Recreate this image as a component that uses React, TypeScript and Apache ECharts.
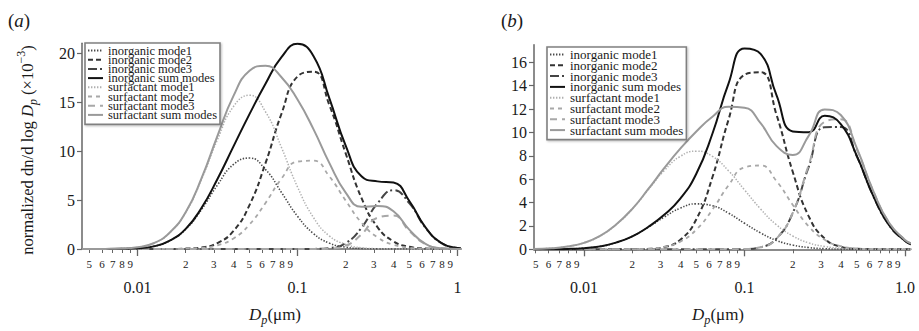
import React, { useEffect, useRef } from 'react';
import * as echarts from 'echarts';

const FONT = "'Liberation Serif', 'DejaVu Serif', serif";

// particle diameters (µm) at which the curves were read
const D = [0.00447, 0.0063, 0.0079, 0.01, 0.0126, 0.0158, 0.02, 0.0251, 0.0316, 0.0398, 0.0501, 0.0631, 0.0794, 0.1, 0.126, 0.158, 0.2, 0.251, 0.316, 0.398, 0.501, 0.631, 0.794, 1.0, 1.1];

// panel (a)
const A_INORG_M1 = [0, 0.003, 0.016, 0.07, 0.27, 0.82, 2.01, 4.02, 6.53, 8.63, 9.28, 8.11, 5.77, 3.34, 1.57, 0.6, 0.19, 0.05, 0.01, 0, 0, 0, 0, 0, 0];
const A_INORG_M2 = [0, 0, 0, 0, 0.001, 0.006, 0.04, 0.16, 0.61, 1.84, 4.48, 8.76, 13.8, 17.6, 18.1, 14.7, 9.76, 5.21, 2.24, 0.78, 0.22, 0.05, 0.01, 0, 0];
const A_INORG_M3 = [0, 0, 0, 0, 0, 0, 0, 0, 0, 0, 0, 0, 0, 0, 0.01, 0.1, 0.6, 2.16, 4.65, 6.0, 4.65, 2.16, 0.6, 0.1, 0.04];
const A_INORG_SUM = [0, 0.003, 0.016, 0.07, 0.27, 0.83, 2.05, 4.18, 7.14, 10.47, 13.76, 16.87, 19.57, 20.94, 19.68, 15.4, 10.55, 7.42, 6.9, 6.78, 4.87, 2.21, 0.61, 0.1, 0.04];
const A_SURF_M1 = [0, 0.01, 0.04, 0.17, 0.59, 1.62, 3.72, 7.09, 11.16, 14.54, 15.69, 14.0, 10.35, 6.33, 3.2, 1.34, 0.47, 0.13, 0.03, 0.01, 0, 0, 0, 0, 0];
const A_SURF_M2 = [0, 0, 0, 0, 0.001, 0.005, 0.03, 0.11, 0.38, 1.08, 2.5, 4.7, 7.18, 8.92, 9.01, 7.41, 4.95, 2.69, 1.19, 0.43, 0.13, 0.03, 0.01, 0, 0];
const A_SURF_M3 = [0, 0, 0, 0, 0, 0, 0, 0, 0, 0, 0, 0, 0, 0, 0, 0.04, 0.34, 1.48, 3.18, 3.41, 1.82, 0.49, 0.07, 0, 0];
const A_SURF_SUM = [0, 0.01, 0.04, 0.17, 0.59, 1.63, 3.75, 7.2, 11.54, 15.62, 18.19, 18.7, 17.53, 15.25, 12.21, 8.79, 5.76, 4.3, 4.4, 3.85, 1.95, 0.52, 0.08, 0, 0];

// panel (b)
const B_INORG_M1 = [0, 0.01, 0.03, 0.1, 0.25, 0.57, 1.11, 1.88, 2.76, 3.52, 3.89, 3.73, 3.1, 2.23, 1.4, 0.76, 0.36, 0.15, 0.05, 0.02, 0, 0, 0, 0, 0];
const B_INORG_M2 = [0, 0, 0, 0, 0, 0, 0, 0.03, 0.19, 0.81, 2.57, 6.16, 11.06, 14.94, 15.15, 11.55, 6.61, 2.84, 0.92, 0.22, 0.04, 0.01, 0, 0, 0];
const B_INORG_M3 = [0, 0, 0, 0, 0, 0, 0, 0, 0, 0, 0, 0, 0, 0.02, 0.18, 0.91, 3.12, 7.03, 10.45, 10.47, 7.95, 4.63, 2.08, 0.72, 0.43];
const B_INORG_SUM = [0, 0.01, 0.03, 0.1, 0.25, 0.57, 1.11, 1.91, 2.95, 4.33, 6.46, 9.89, 14.16, 17.19, 16.73, 13.22, 10.09, 10.02, 11.42, 10.71, 7.99, 4.64, 2.08, 0.72, 0.43];
const B_SURF_M1 = [0.02, 0.09, 0.24, 0.55, 1.14, 2.1, 3.45, 5.09, 6.73, 7.95, 8.4, 7.95, 6.73, 5.09, 3.45, 2.1, 1.14, 0.55, 0.24, 0.09, 0.03, 0.01, 0, 0, 0];
const B_SURF_M2 = [0, 0, 0, 0, 0, 0, 0.01, 0.05, 0.21, 0.66, 1.68, 3.39, 5.46, 7.01, 7.17, 5.85, 3.8, 1.97, 0.81, 0.27, 0.07, 0.01, 0, 0, 0];
const B_SURF_M3 = [0, 0, 0, 0, 0, 0, 0, 0, 0, 0, 0, 0, 0, 0.02, 0.17, 0.9, 3.13, 7.19, 10.92, 11.13, 8.55, 5.05, 2.29, 0.8, 0.49];
const B_SURF_SUM = [0.02, 0.09, 0.24, 0.55, 1.14, 2.1, 3.46, 5.14, 6.94, 8.61, 10.08, 11.34, 12.19, 12.12, 10.79, 8.85, 8.07, 9.71, 11.97, 11.49, 8.65, 5.07, 2.29, 0.8, 0.49];

const NAMES = [
  'inorganic mode1',
  'inorganic mode2',
  'inorganic mode3',
  'inorganic sum modes',
  'surfactant mode1',
  'surfactant mode2',
  'surfactant mode3',
  'surfactant sum modes',
];

const PANEL_A = [A_INORG_M1, A_INORG_M2, A_INORG_M3, A_INORG_SUM, A_SURF_M1, A_SURF_M2, A_SURF_M3, A_SURF_SUM];
const PANEL_B = [B_INORG_M1, B_INORG_M2, B_INORG_M3, B_INORG_SUM, B_SURF_M1, B_SURF_M2, B_SURF_M3, B_SURF_SUM];

// axis ticks
const MINOR_TICKS = [0.005, 0.006, 0.007, 0.008, 0.009, 0.02, 0.03, 0.04, 0.05, 0.06, 0.07, 0.08, 0.09, 0.2, 0.3, 0.4, 0.5, 0.6, 0.7, 0.8, 0.9];
const MAJOR_TICKS = [0.01, 0.1, 1];
const MAJOR_LABELS_A = ['0.01', '0.1', '1'];
const MAJOR_LABELS_B = ['0.01', '0.1', '1.0'];
const Y_TICKS_A = [0, 5, 10, 15, 20];
const Y_TICKS_B = [0, 2, 4, 6, 8, 10, 12, 14, 16];

const STYLES: any[] = [
  { color: '#4a4a4a', width: 1.6, type: [1.4, 1.6] },
  { color: '#333333', width: 2, type: [5, 3] },
  { color: '#444444', width: 2, type: [9, 3, 2, 3] },
  { color: '#111111', width: 2, type: 'solid' },
  { color: '#b0b0b0', width: 1.5, type: [1.4, 1.6] },
  { color: '#a8a8a8', width: 1.8, type: [4, 4] },
  { color: '#a8a8a8', width: 2, type: [7, 5] },
  { color: '#9a9a9a', width: 2, type: 'solid' },
];

const AXIS_COLOR = '#666';
const TEXT_COLOR = '#1a1a1a';

function xAxes(gridIndex: number, min: number, max: number, majorLabels: string[]) {
  const minorVals = MINOR_TICKS.map((v) => Math.log10(v));
  const majorVals = MAJOR_TICKS.map((v) => Math.log10(v));
  return [
    {
      type: 'value', gridIndex, min, max, position: 'bottom',
      axisLine: { show: true, onZero: false, lineStyle: { color: AXIS_COLOR, width: 1.5 } },
      axisTick: { show: true, customValues: minorVals, length: 4, lineStyle: { color: AXIS_COLOR, width: 1 } },
      axisLabel: {
        customValues: minorVals,
        formatter: (v: number) => String(Math.round(Math.pow(10, v) / Math.pow(10, Math.floor(v + 1e-9)))),
        margin: 9, fontSize: 11, fontFamily: FONT, color: TEXT_COLOR,
      },
      splitLine: { show: false },
    },
    {
      type: 'value', gridIndex, min, max, position: 'bottom',
      axisLine: { show: false, onZero: false },
      axisTick: { show: true, customValues: majorVals, length: 7, lineStyle: { color: AXIS_COLOR, width: 1.3 } },
      axisLabel: {
        customValues: majorVals,
        formatter: (v: number) => majorLabels[majorVals.findIndex((m) => Math.abs(m - v) < 1e-6)] ?? '',
        margin: 30, fontSize: 16, fontFamily: FONT, color: TEXT_COLOR,
      },
      splitLine: { show: false },
    },
  ];
}

function yAxis(gridIndex: number, max: number, ticks: number[]) {
  return {
    type: 'value', gridIndex, min: 0, max,
    axisLine: { show: true, onZero: false, lineStyle: { color: AXIS_COLOR, width: 1.5 } },
    axisTick: { show: true, customValues: ticks, length: 5, lineStyle: { color: AXIS_COLOR, width: 1.2 } },
    axisLabel: { customValues: ticks, margin: 7, fontSize: 16, fontFamily: FONT, color: TEXT_COLOR },
    splitLine: { show: false },
  };
}

function legend(left: number, top: number, fontSize: number, gap: number) {
  return {
    data: NAMES, orient: 'vertical', left, top,
    itemWidth: 15, itemHeight: 8, itemGap: gap,
    padding: [1, 3, 3, 2],
    backgroundColor: '#ffffff', borderColor: '#808080', borderWidth: 1.6,
    shadowColor: 'rgba(0,0,0,0.25)', shadowBlur: 2, shadowOffsetX: 1, shadowOffsetY: 1,
    itemStyle: { opacity: 0 },
    textStyle: { fontFamily: FONT, fontSize, color: TEXT_COLOR },
    selectedMode: false,
  };
}

function makeSeries(panel: number[][], axisIndex: number) {
  return panel.map((vals, k) => ({
    name: NAMES[k],
    type: 'line',
    xAxisIndex: axisIndex * 2,
    yAxisIndex: axisIndex,
    data: D.map((d, i) => [Math.log10(d), vals[i]]),
    smooth: true,
    symbol: 'none',
    showSymbol: false,
    lineStyle: { ...STYLES[k] },
    itemStyle: { color: STYLES[k].color },
    z: k === 3 || k === 7 ? 3 : 2,
  }));
}

const richTitle = (size: number) => ({
  n: { fontSize: size, fontFamily: FONT, fill: TEXT_COLOR, lineHeight: 24 },
  i: { fontSize: size, fontFamily: FONT, fontStyle: 'italic', fill: TEXT_COLOR, lineHeight: 24 },
  s: { fontSize: size * 0.72, fontFamily: FONT, fontStyle: 'italic', fill: TEXT_COLOR, verticalAlign: 'bottom' },
  u: { fontSize: size * 0.72, fontFamily: FONT, fill: TEXT_COLOR, verticalAlign: 'top' },
});

export default function App() {
  const ref = useRef<HTMLDivElement>(null);
  useEffect(() => {
    if (!ref.current) return;
    const chart = echarts.init(ref.current, undefined, { renderer: 'svg' });
    const option: any = {
      animation: false,
      backgroundColor: '#ffffff',
      grid: [
        { left: 82, top: 43.2, width: 378, height: 205.8 },
        { left: 534, top: 44.8, width: 376, height: 204.5 },
      ],
      xAxis: [
        ...xAxes(0, -2.347, 0.0156, MAJOR_LABELS_A),
        ...xAxes(1, -2.3115, 0.0312, MAJOR_LABELS_B),
      ],
      yAxis: [yAxis(0, 21, Y_TICKS_A), yAxis(1, 17.5, Y_TICKS_B)],
      legend: [legend(85, 43, 12.5, -3.8), legend(547, 47, 13, -2.2)],
      series: [...makeSeries(PANEL_A, 0), ...makeSeries(PANEL_B, 1)],
      graphic: [
        {
          type: 'text', x: 8, y: 20,
          style: { text: '{n|(}{i|a}{n|)}', verticalAlign: 'middle', rich: richTitle(19) },
        },
        {
          type: 'text', x: 501, y: 20,
          style: { text: '{n|(}{i|b}{n|)}', verticalAlign: 'middle', rich: richTitle(19) },
        },
        {
          type: 'text', x: 275, y: 314,
          style: { text: '{i|D}{s|p}{n|(μm)}', align: 'center', verticalAlign: 'middle', rich: richTitle(17) },
        },
        {
          type: 'text', x: 718, y: 314,
          style: { text: '{i|D}{s|p}{n|(μm)}', align: 'center', verticalAlign: 'middle', rich: richTitle(17) },
        },
        {
          type: 'text', x: 27, y: 150, rotation: Math.PI / 2,
          style: {
            text: '{n|normalized dn/d log }{i|D}{s|p}{n| (×10}{u|−3}{n|)}',
            align: 'center', verticalAlign: 'middle', rich: richTitle(16.6),
          },
        },
      ],
    };
    chart.setOption(option);
    return () => chart.dispose();
  }, []);
  return (
    <div
      ref={ref}
      style={{ position: 'absolute', left: 0, top: 0, width: 919, height: 331, background: '#fff' }}
    />
  );
}
